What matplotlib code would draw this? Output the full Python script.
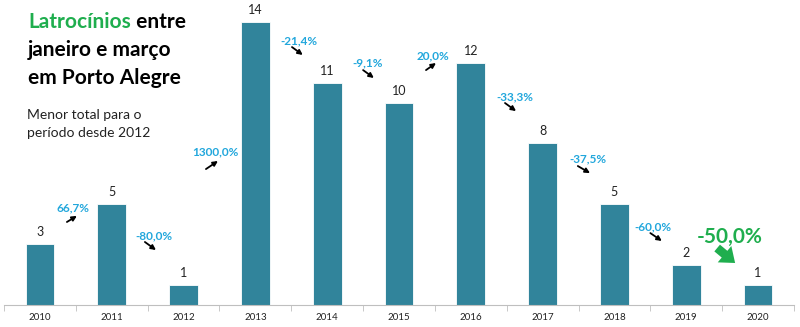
import matplotlib
matplotlib.use("Agg")
import matplotlib.pyplot as plt
import numpy as np

years = ["2010", "2011", "2012", "2013", "2014", "2015", "2016", "2017", "2018", "2019", "2020"]
values = [3, 5, 1, 14, 11, 10, 12, 8, 5, 2, 1]
changes = ["66,7%", "-80,0%", "1300,0%", "-21,4%", "-9,1%", "20,0%", "-33,3%", "-37,5%", "-60,0%", "-50,0%"]

# annotation placement (data coords): text pos, arrow start, arrow end
label_pos = [(0.46, 4.80), (1.59, 3.42), (2.44, 7.57), (3.61, 13.07), (4.57, 11.98),
             (5.47, 12.33), (6.62, 10.30), (7.63, 7.23), (8.54, 3.86), (9.61, 3.37)]
arrow_from = [(0.376, 4.11), (1.462, 3.12), (2.312, 6.73), (3.51, 12.77), (4.50, 11.63),
              (5.376, 11.63), (6.476, 10.0), (7.49, 6.88), (8.50, 3.56), (9.43, 2.82)]
arrow_to = [(0.515, 4.41), (1.616, 2.72), (2.479, 7.13), (3.66, 12.38), (4.65, 11.24),
            (5.515, 11.98), (6.63, 9.6), (7.66, 6.53), (8.66, 3.17), (9.68, 2.08)]

BAR = "#31849b"
CYAN = "#22a7dc"
GREEN = "#1fae4e"
FONT = "Lato"

fig = plt.figure(figsize=(8, 3.27), dpi=100)
ax = fig.add_axes([0.005, 22/327, 0.9875, 1 - 22/327])
x = np.arange(len(years))
ax.bar(x, values, width=0.40, color=BAR, edgecolor="white", linewidth=0.6)
ax.set_xlim(-0.5, len(years) - 0.5)
ax.set_ylim(0, 15.1)

for xi, v in zip(x, values):
    ax.text(xi, v + 0.3, str(v), ha="center", va="bottom", fontsize=9, family=FONT, color="#222222")

ax.set_xticks(x)
ax.set_xticklabels(years, fontsize=7, family=FONT, color="#222222")
ax.tick_params(axis="x", which="major", length=0, pad=6)
ax.set_xticks(np.arange(-0.5, len(years), 1), minor=True)
ax.tick_params(axis="x", which="minor", length=4, color="#bfbfbf", direction="out")
ax.set_yticks([])
for s in ["top", "right", "left"]:
    ax.spines[s].set_visible(False)
ax.spines["bottom"].set_color("#bfbfbf")

n = len(changes)
for i, (lab, tp, a0, a1) in enumerate(zip(changes, label_pos, arrow_from, arrow_to)):
    last = i == n - 1
    ax.text(tp[0], tp[1], lab, ha="center", va="center",
            fontsize=15 if last else 8.5, fontweight="bold", family=FONT,
            color=GREEN if last else CYAN)
    if last:
        ax.annotate("", xy=a1, xytext=a0,
                    arrowprops=dict(arrowstyle="simple,head_length=0.55,head_width=0.85,tail_width=0.35",
                                    color=GREEN, lw=0, mutation_scale=18,
                                    shrinkA=0, shrinkB=0))
    else:
        ax.annotate("", xy=a1, xytext=a0,
                    arrowprops=dict(arrowstyle="-|>", color="black", lw=1.3,
                                    mutation_scale=7, shrinkA=0, shrinkB=0))

TS = 15
t1 = fig.text(28/800, 1 - 22/327, "Latrocínios", fontsize=TS, fontweight="bold",
              family=FONT, color=GREEN, va="center", ha="left")
fig.canvas.draw()
ax.annotate(" entre", xy=(1, 0.5), xycoords=t1, va="center", ha="left",
            fontsize=TS, fontweight="bold", family=FONT, color="black")
fig.text(28/800, 1 - 50/327, "janeiro e março", fontsize=TS, fontweight="bold",
         family=FONT, color="black", va="center", ha="left")
fig.text(28/800, 1 - 78/327, "em Porto Alegre", fontsize=TS, fontweight="bold",
         family=FONT, color="black", va="center", ha="left")
fig.text(27/800, 1 - 115/327, "Menor total para o", fontsize=10, family=FONT,
         color="#222222", va="center", ha="left")
fig.text(27/800, 1 - 133/327, "período desde 2012", fontsize=10, family=FONT,
         color="#222222", va="center", ha="left")

fig.savefig("out.png", dpi=100)
